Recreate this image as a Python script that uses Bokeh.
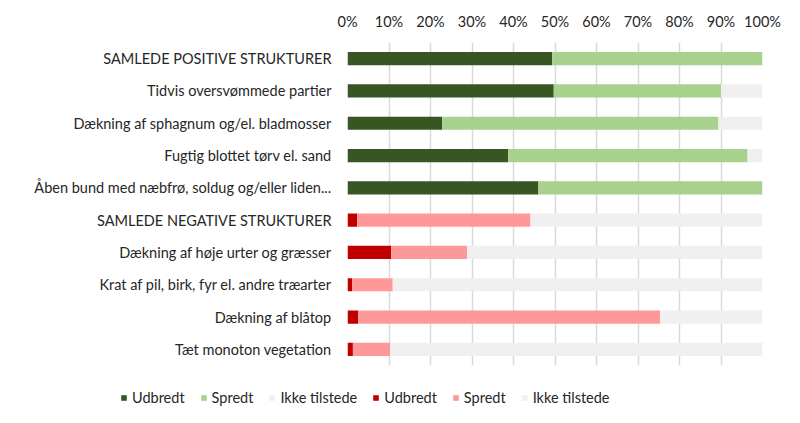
from bokeh.plotting import figure
from bokeh.models import ColumnDataSource, Legend, LegendItem, NumeralTickFormatter, FixedTicker, Range1d
from bokeh.embed import file_html
from bokeh.resources import INLINE

pos_cats = ["SAMLEDE POSITIVE STRUKTURER", "Tidvis oversvømmede partier",
            "Dækning af sphagnum og/el. bladmosser", "Fugtig blottet tørv el. sand",
            "Åben bund med næbfrø, soldug og/eller liden..."]
neg_cats = ["SAMLEDE NEGATIVE STRUKTURER", "Dækning af høje urter og græsser",
            "Krat af pil, birk, fyr el. andre træarter", "Dækning af blåtop",
            "Tæt monoton vegetation"]

pos_udbredt = [0.493, 0.497, 0.228, 0.387, 0.460]
pos_spredt = [0.507, 0.403, 0.666, 0.577, 0.540]
pos_ikke = [0.000, 0.100, 0.106, 0.036, 0.000]

neg_udbredt = [0.023, 0.105, 0.011, 0.026, 0.013]
neg_spredt = [0.418, 0.183, 0.098, 0.727, 0.090]
neg_ikke = [0.559, 0.712, 0.891, 0.247, 0.897]

x_ticks = [0, 0.1, 0.2, 0.3, 0.4, 0.5, 0.6, 0.7, 0.8, 0.9, 1.0]

legend_labels = ["Udbredt", "Spredt", "Ikke tilstede", "Udbredt", "Spredt", "Ikke tilstede"]
pos_colors = ["#375623", "#A9D18E", "#F0F0F0"]
neg_colors = ["#C00000", "#FF9999", "#F0F0F0"]

FONT = "Lato"
FS = "14.5px"
all_cats = pos_cats + neg_cats

p = figure(width=784, height=375, y_range=list(reversed(all_cats)),
           x_range=Range1d(0, 1), x_axis_location="above",
           output_backend="svg", toolbar_location=None,
           min_border_left=347, min_border_right=22, min_border_top=42, min_border_bottom=10)

src_pos = ColumnDataSource(dict(cat=pos_cats, u=pos_udbredt, s=pos_spredt, i=pos_ikke))
src_neg = ColumnDataSource(dict(cat=neg_cats, u=neg_udbredt, s=neg_spredt, i=neg_ikke))

H = 0.41
p.hbar_stack(["u", "s", "i"], y="cat", height=H, source=src_pos, color=pos_colors, line_width=0)
p.hbar_stack(["u", "s", "i"], y="cat", height=H, source=src_neg, color=neg_colors, line_width=0)

p.xaxis.ticker = FixedTicker(ticks=x_ticks)
p.xaxis.formatter = NumeralTickFormatter(format="0%")
for ax in (p.xaxis, p.yaxis):
    ax.axis_line_color = None
    ax.major_tick_line_color = None
    ax.minor_tick_line_color = None
    ax.major_tick_out = 0
    ax.minor_tick_out = 0
    ax.major_label_text_font = FONT
    ax.major_label_text_font_size = FS
    ax.major_label_text_color = "#262626"
p.xaxis.major_label_standoff = 13
p.yaxis.major_label_standoff = 16

p.xgrid.grid_line_color = "#D9D9D9"
p.xgrid.grid_line_width = 1.5
p.ygrid.grid_line_color = None
p.outline_line_color = None

# legend strip below the chart (separate root so its frame is not aligned to the chart's)
p2 = figure(width=784, height=40, x_range=Range1d(0, 1), y_range=Range1d(0, 1),
            output_backend="svg", toolbar_location=None,
            min_border_left=0, min_border_right=0, min_border_top=0, min_border_bottom=0)
p2.axis.visible = False
p2.grid.visible = False
p2.outline_line_color = None
items = []
for lab, col in zip(legend_labels, pos_colors + neg_colors):
    # hidden placeholder bar (outside the visible range) that only supplies the legend swatch
    r = p2.hbar(y=[-5], left=[0], right=[0], height=0.5, color=col, line_width=0)
    items.append(LegendItem(label=lab, renderers=[r]))
legend = Legend(items=items, orientation="horizontal", location=(120, 9),
                glyph_width=7, glyph_height=7, label_standoff=5, spacing=15,
                label_text_font=FONT, label_text_font_size=FS, label_text_color="#262626",
                border_line_color=None, background_fill_alpha=0, padding=0, margin=0)
p2.add_layout(legend)

open("out.html", "w").write(file_html([p, p2], INLINE))
